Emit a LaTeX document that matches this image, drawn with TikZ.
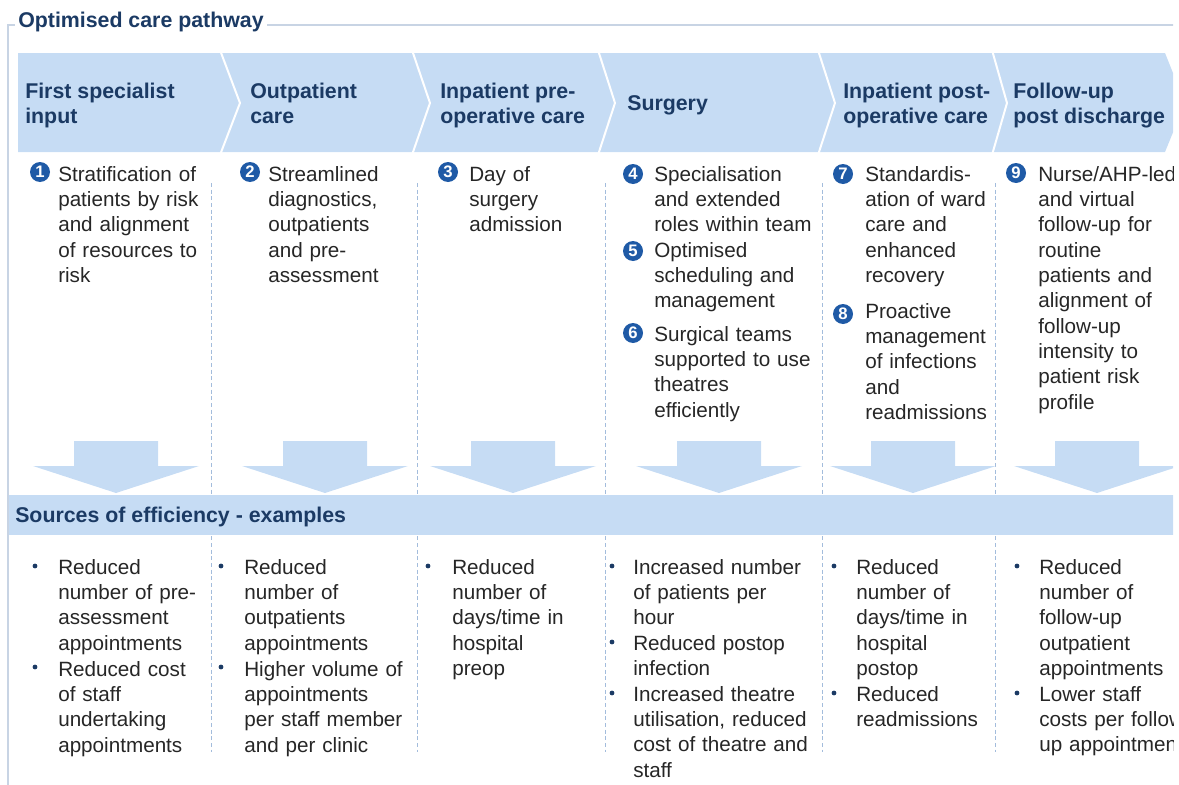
\documentclass[tikz,border=0pt]{standalone}
\usepackage{fontspec}
\setmainfont{Liberation Sans}
\usepackage{tikz}
\usetikzlibrary{positioning}
\definecolor{bandblue}{HTML}{C6DCF4}
\definecolor{headnavy}{HTML}{1B3A64}
\definecolor{numblue}{HTML}{1F5AA6}
\definecolor{bodygray}{HTML}{262626}
\definecolor{sepblue}{HTML}{A3BCDC}
\definecolor{framegray}{HTML}{C8D4E4}

\begin{document}
\begin{tikzpicture}[
  x=0.75pt,y=-0.75pt,
  hdr/.style={font=\fontsize{16}{18.75}\selectfont\bfseries,text=headnavy,
              align=left,anchor=base west,inner sep=0pt},
  item/.style={font=\fontsize{15.5}{19}\selectfont,text=bodygray,
               text width=60mm,align=left,anchor=base west,inner sep=0pt},
  num/.style={circle,fill=numblue,text=white,inner sep=0pt,minimum size=15pt,
              font=\fontsize{12.5}{12.5}\selectfont\bfseries},
  dot/.style={circle,fill=headnavy,inner sep=0pt,minimum size=3.6pt},
  sep/.style={draw=sepblue,dashed,dash pattern=on 3pt off 2pt,line width=0.6pt},
  chev/.style={fill=bandblue},
  down/.style={fill=bandblue}
]
\useasboundingbox (0,0) rectangle (1179,785);
\clip (0,0) rectangle (1173,785);

%------ frame + title ---------------------------------------------------------
\draw[framegray,line width=1.5pt] (8,785) -- (8,25) -- (1179,25);
\node[hdr,fill=white,inner xsep=2.25pt,inner ysep=1pt] (title) at (15,27) {Optimised care pathway};

%------ chevron band ------------------------------------------------------------
\fill[chev] (18,53) -- (1165,53) -- (1185,103) -- (1165,152) -- (18,152) -- cycle;
\foreach \bx/\tx in {220/240,412/430,598/615,818/835,992/1007}
  \draw[white,line width=1.5pt] (\bx,50) -- (\tx,103) -- (\bx,155);

% multi-line headers sit on the baseline of their last line
\node[hdr] (first) at (25,123)   {First specialist\\input};
\node[hdr] (outp)  at (250,123)  {Outpatient\\care};
\node[hdr] (preop) at (440,123)  {Inpatient pre-\\operative care};
\node[hdr] (surg)  at (627,110)  {Surgery};
\node[hdr] (post)  at (843,123)  {Inpatient post-\\operative care};
\node[hdr] (fup)   at (1013,123) {Follow-up\\post discharge};

%------ column separators -------------------------------------------------------
\foreach \sx in {211,417,605,822,995}
  \draw[sep] (\sx,183) -- (\sx,752);

%------ initiatives ---------------------------------------------------------------
\node[num]  (n1) at (40,172)  {1};
\node[item] (t1) at (58,181)  {Stratification of\\patients by risk\\and alignment\\of resources to\\risk};
\node[num]  (n2) at (250,172) {2};
\node[item] (t2) at (268,181) {Streamlined\\diagnostics,\\outpatients\\and pre-\\assessment};
\node[num]  (n3) at (448,172) {3};
\node[item] (t3) at (469,181) {Day of\\surgery\\admission};
\node[num]  (n4) at (633,174) {4};
\node[item] (t4) at (654,181) {Specialisation\\and extended\\roles within team};
\node[num]  (n5) at (633,251) {5};
\node[item] (t5) at (654,257) {Optimised\\scheduling and\\management};
\node[num]  (n6) at (633,333) {6};
\node[item] (t6) at (654,341) {Surgical teams\\supported to use\\theatres\\efficiently};
\node[num]  (n7) at (843,174) {7};
\node[item] (t7) at (865,181) {Standardis-\\ation of ward\\care and\\enhanced\\recovery};
\node[num]  (n8) at (843,314) {8};
\node[item] (t8) at (865,318) {Proactive\\management\\of infections\\and\\readmissions};
\node[num]  (n9) at (1016,173) {9};
\node[item] (t9) at (1038,181) {Nurse/AHP-led\\and virtual\\follow-up for\\routine\\patients and\\alignment of\\follow-up\\intensity to\\patient risk\\profile};

%------ down arrows -------------------------------------------------------------
\foreach \c in {116,325,513,719,913,1097}
  \fill[down] (\c-42,441) -- (\c+42,441) -- (\c+42,466) -- (\c+83,466)
              -- (\c,493) -- (\c-83,466) -- (\c-42,466) -- cycle;

%------ sources band --------------------------------------------------------------
\fill[bandblue] (9,495) rectangle (1179,535);
\node[hdr] (src) at (15,522) {Sources of efficiency - examples};

%------ examples ------------------------------------------------------------------
\node[dot]  (d1a) at (35,566)  {};
\node[item] (e1a) at (58,574)  {Reduced\\number of pre-\\assessment\\appointments};
\node[dot]  (d1b) at (35,667)  {};
\node[item] (e1b) at (58,676)  {Reduced cost\\of staff\\undertaking\\appointments};
\node[dot]  (d2a) at (221,566) {};
\node[item] (e2a) at (244,574) {Reduced\\number of\\outpatients\\appointments};
\node[dot]  (d2b) at (221,667) {};
\node[item] (e2b) at (244,676) {Higher volume of\\appointments\\per staff member\\and per clinic};
\node[dot]  (d3a) at (428,566) {};
\node[item] (e3a) at (452,574) {Reduced\\number of\\days/time in\\hospital\\preop};
\node[dot]  (d4a) at (612,566) {};
\node[item] (e4a) at (633,574) {Increased number\\of patients per\\hour};
\node[dot]  (d4b) at (612,642) {};
\node[item] (e4b) at (633,650) {Reduced postop\\infection};
\node[dot]  (d4c) at (612,693) {};
\node[item] (e4c) at (633,701) {Increased theatre\\utilisation, reduced\\cost of theatre and\\staff};
\node[dot]  (d5a) at (834,566) {};
\node[item] (e5a) at (856,574) {Reduced\\number of\\days/time in\\hospital\\postop};
\node[dot]  (d5b) at (834,693) {};
\node[item] (e5b) at (856,701) {Reduced\\readmissions};
\node[dot]  (d6a) at (1017,566) {};
\node[item] (e6a) at (1039,574) {Reduced\\number of\\follow-up\\outpatient\\appointments};
\node[dot]  (d6b) at (1017,693) {};
\node[item] (e6b) at (1039,701) {Lower staff\\costs per follow-\\up appointments};
\end{tikzpicture}
\end{document}
